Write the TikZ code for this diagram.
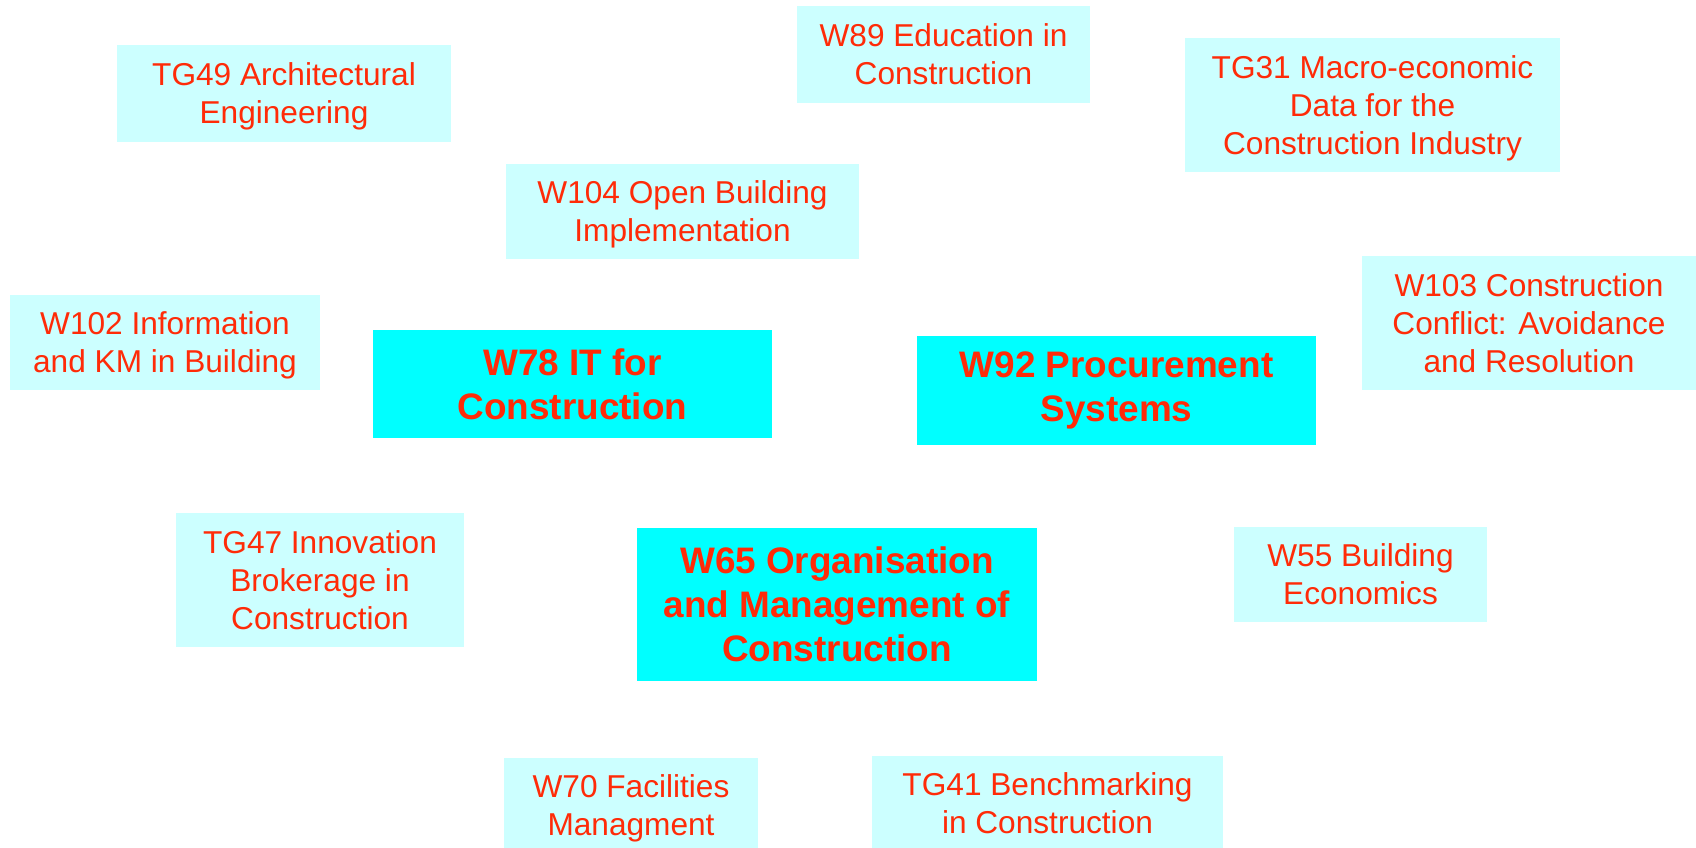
\documentclass[tikz,border=0pt]{standalone}
\usepackage{fontspec}
\setmainfont{Liberation Sans}
\usepackage{tikz}
\usetikzlibrary{positioning}
\definecolor{paleblue}{HTML}{CCFFFF}
\definecolor{brightcyan}{HTML}{00FFFF}
\definecolor{wred}{RGB}{255,43,8}

\begin{document}
\begin{tikzpicture}[x=0.02cm,y=-0.02cm]
    \tikzstyle{group}=[fill=paleblue, text=wred, align=center, inner sep=0pt, text depth=-4.5pt, font=\fontsize{18}{21.6}\selectfont]
    \tikzstyle{commission}=[fill=brightcyan, text=wred, align=center, inner sep=0pt, font=\bfseries\fontsize{21}{25}\selectfont]
    \path[use as bounding box, clip] (0,0) rectangle (1696,848);

    \node[group, minimum width=6.68cm, minimum height=1.94cm] (tg49) at (284,93.5) {TG49 Architectural\\Engineering};
    \node[group, minimum width=5.86cm, minimum height=1.94cm] (w89) at (943.5,54.5) {W89 Education in\\Construction};
    \node[group, minimum width=7.5cm, minimum height=2.68cm] (tg31) at (1372.5,105) {TG31 Macro-economic\\Data for the\\Construction Industry};
    \node[group, minimum width=7.06cm, minimum height=1.9cm] (w104) at (682.5,211.5) {W104 Open Building\\Implementation};
    \node[group, minimum width=6.2cm, minimum height=1.9cm] (w102) at (165,342.5) {W102 Information\\and KM in Building};
    \node[group, minimum width=6.68cm, minimum height=2.68cm] (w103) at (1529,323) {W103 Construction\\Conflict: Avoidance\\and Resolution};

    \node[commission, minimum width=7.98cm, minimum height=2.16cm] (w78) at (572.5,384) {W78 IT for\\Construction};
    \node[commission, minimum width=7.98cm, minimum height=2.18cm] (w92) at (1116.5,390.5) {W92 Procurement\\Systems};
    \node[commission, minimum width=8cm, minimum height=3.06cm] (w65) at (837,604.5) {W65 Organisation\\and Management of\\Construction};

    \node[group, minimum width=5.76cm, minimum height=2.68cm] (tg47) at (320,580) {TG47 Innovation\\Brokerage in\\Construction};
    \node[group, minimum width=5.06cm, minimum height=1.9cm] (w55) at (1360.5,574.5) {W55 Building\\Economics};
    \node[group, minimum width=5.08cm, minimum height=1.9cm] (w70) at (631,805.5) {W70 Facilities\\Managment};
    \node[group, minimum width=7.02cm, minimum height=1.9cm] (tg41) at (1047.5,803.5) {TG41 Benchmarking\\in Construction};
\end{tikzpicture}
\end{document}
